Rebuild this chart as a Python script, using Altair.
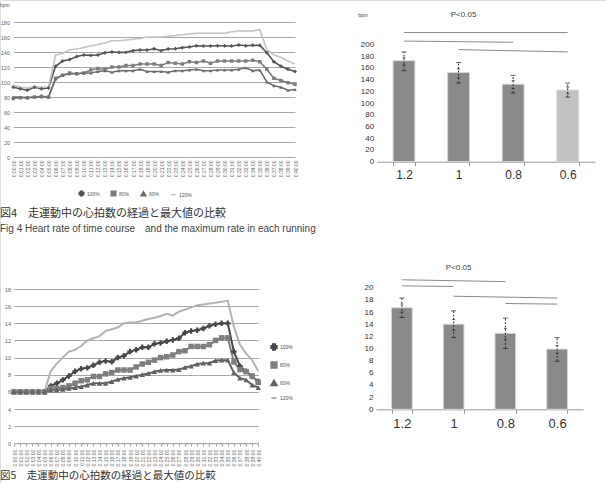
import altair as alt
import pandas as pd

times = ["0:00:00", "0:01:00", "0:02:00", "0:03:00", "0:04:00", "0:05:00", "0:06:00",
         "0:07:00", "0:08:00", "0:09:00", "0:10:00", "0:11:00", "0:12:00", "0:13:00",
         "0:14:00", "0:15:00", "0:16:00", "0:17:00", "0:18:00", "0:19:00", "0:20:00",
         "0:21:00", "0:22:00", "0:23:00", "0:24:00", "0:25:00", "0:26:00", "0:27:00",
         "0:28:00", "0:29:00", "0:30:00", "0:31:00", "0:32:00", "0:33:00", "0:34:00",
         "0:35:00", "0:36:00", "0:37:00", "0:38:00", "0:39:00", "0:40:00"]
series_names = ["100%", "80%", "60%", "120%"]

# Fig 4 time course (bpm)
hr_100 = [93, 91, 89, 93, 91, 92, 121, 128, 130, 134, 136, 135.5, 136, 139, 140, 139.5, 139.5,
          141.8, 142.7, 142.7, 144.4, 141.8, 144, 144.4, 145.8, 146.7, 148.4, 148, 148, 148.4,
          148.4, 148, 149.3, 148.4, 148.9, 148.9, 139, 127, 121, 117, 114]
hr_80 = [78, 79, 79, 80, 81, 80, 105, 109, 112, 111, 112, 116, 118, 117, 120, 120, 122, 122, 124,
         124, 124, 122, 126, 125, 124, 127, 126, 128, 125, 128, 128, 128, 128, 128, 129, 127, 117,
         105, 102, 99, 97]
hr_60 = [80, 80, 79, 80, 80, 80, 104, 109, 111, 111, 112, 112, 114, 115, 113, 115, 115, 115, 117,
         114, 114, 114, 113, 115, 115, 116, 117, 115, 115, 116, 116, 116, 117, 119, 115, 116, 100,
         95, 93, 89, 90]
hr_120 = [96, 93, 92, 94, 93, 93, 136, 138, 143, 144, 146, 148, 150, 152, 155, 155, 156, 157, 158,
          160, 160, 160, 161, 162, 163, 164, 165, 165, 165, 165, 165, 167, 168, 168, 168, 170, 143,
          136, 133, 128, 124]

# Fig 5 time course
r_100 = [6, 6, 6, 6, 6, 6, 6.7, 7.0, 7.4, 7.85, 8.4, 8.7, 8.8, 9.1, 9.45, 9.6, 9.5, 10.0, 10.2,
         10.7, 10.9, 11.2, 11.2, 11.6, 11.7, 11.9, 12.05, 12.25, 12.9, 13.1, 13.2, 13.4, 13.7,
         13.9, 14.0, 14.0, 10.7, 9.0, 8.4, 7.8, 7.2]
r_80 = [6, 6, 6, 6, 6, 6, 6.4, 6.4, 6.5, 6.7, 7.0, 7.3, 7.4, 7.8, 7.8, 8.1, 8.25, 8.55, 8.55,
        8.55, 8.9, 9.25, 9.45, 9.7, 10.0, 10.1, 10.3, 10.7, 10.8, 11.3, 11.3, 11.3, 11.5, 12.0,
        12.3, 12.3, 9.5, 8.6, 8.35, 7.85, 7.1]
r_60 = [6, 6, 6, 6, 6, 6, 6.2, 6.2, 6.3, 6.4, 6.5, 6.6, 6.8, 7.0, 7.0, 7.0, 7.2, 7.45, 7.6, 7.7,
        7.85, 8.0, 8.15, 8.35, 8.5, 8.55, 8.55, 8.6, 8.85, 9.0, 9.25, 9.35, 9.35, 9.65, 9.7, 9.7,
        8.25, 7.6, 7.4, 6.8, 6.5]
r_120 = [6, 6, 6, 6, 6, 6, 8.4, 9.3, 10.0, 10.7, 10.9, 11.35, 12.0, 12.25, 12.5, 13.1, 13.3, 13.5,
         14.0, 14.1, 14.1, 14.3, 14.5, 14.65, 14.85, 15.1, 14.9, 15.35, 15.6, 15.85, 16.1, 16.2,
         16.3, 16.4, 16.5, 16.65, 13.6, 11.5, 10.5, 9.7, 8.4]

# Bars
bar_cats = ["1.2", "1", "0.8", "0.6"]
hr_max = [172, 152, 132, 122]
hr_hi = [187, 169, 147, 134]
hr_lo = [155, 134, 117, 110]
hr_in_hi = [177, 158, 138, 127]
hr_in_lo = [165, 143, 125, 116]
hr_bar_colors = ["#8a8a8a", "#8a8a8a", "#8a8a8a", "#c2c2c2"]

r_max = [16.7, 14.0, 12.5, 9.9]
r_hi = [18.3, 16.2, 15.0, 11.8]
r_lo = [15.1, 11.8, 10.0, 7.9]
r_in_hi = [17.3, 14.8, 13.3, 10.5]
r_in_lo = [16.0, 13.0, 11.5, 9.2]

# significance brackets
sig4_from = ["1.2", "1.2", "1"]
sig4_to = ["0.6", "0.8", "0.6"]
sig4_y1 = [220, 205.5, 191]
sig4_y2 = [220, 203.5, 187]
sig5_from = ["1.2", "1.2", "1", "0.8"]
sig5_to = ["0.8", "1", "0.6", "0.6"]
sig5_y1 = [21.3, 20.3, 18.6, 17.4]
sig5_y2 = [21.0, 20.2, 18.3, 17.3]

W, H = 606, 483
FONT = "Liberation Sans"


def line_panel(vals, colors, widths, shapes, psize, xr, yr, ydom, yticks, yaxis_x, legend, xticks):
    rows = []
    for name, v in zip(series_names, vals):
        for t, val in zip(times, v):
            rows.append({"time": t, "series": name, "value": val})
    df = pd.DataFrame(rows)
    x = alt.X("time:O", sort=times,
              scale=alt.Scale(type="point", range=xr, padding=0),
              axis=alt.Axis(orient="bottom", offset=-(H - yr[0]), labelAngle=-90,
                            labelAlign="right", labelBaseline="middle", labelFontSize=5,
                            labelPadding=3, labelOverlap=False, labelColor="#666",
                            ticks=xticks, tickSize=3, tickColor="#aaa",
                            domain=xticks, domainColor="#aaa", grid=False, title=None))
    y = alt.Y("value:Q", scale=alt.Scale(domain=ydom, range=yr, nice=False, zero=False),
              axis=alt.Axis(orient="left", offset=-yaxis_x, values=yticks, grid=True,
                            gridColor="#a8a8a8", gridWidth=1, domain=False, ticks=False,
                            labelFontSize=5.5, labelColor="#666", labelPadding=1.5,
                            title=None))
    color = alt.Color("series:N", scale=alt.Scale(domain=series_names, range=colors),
                      legend=legend)
    lines = alt.Chart(df).mark_line().encode(
        x=x, y=y, color=color,
        strokeWidth=alt.StrokeWidth("series:N",
                                    scale=alt.Scale(domain=series_names, range=widths),
                                    legend=None),
        detail="series:N")
    pts = alt.Chart(df).transform_filter(alt.datum.series != "120%").mark_point(
        filled=True, size=psize, opacity=1).encode(
        x=x, y=y, color=color,
        shape=alt.Shape("series:N", scale=alt.Scale(domain=series_names, range=shapes),
                        legend=legend))
    return alt.layer(lines, pts)


def bar_panel(vals, hi, lo, ihi, ilo, colors, xr, yr, ydom, yticks, lab_size,
              sfrom, sto, sy1, sy2, ptxt_y, bpm):
    df = pd.DataFrame({"cat": bar_cats, "v": vals, "hi": hi, "lo": lo, "ihi": ihi,
                       "ilo": ilo, "c": colors})
    xs = alt.Scale(domain=bar_cats, range=xr, paddingInner=0.6, paddingOuter=0.3)
    ys = alt.Scale(domain=ydom, range=yr, nice=False, zero=True)
    yax = alt.Axis(orient="left", offset=-xr[0], values=yticks, grid=False, domain=False,
                   ticks=False, labelFontSize=8, labelColor="#333", labelPadding=3,
                   title="bpm" if bpm else None, titleAngle=0, titleFontSize=5,
                   titleFontWeight="normal", titleX=-19, titleY=yr[1] - 27,
                   titleAlign="left", titleColor="#444")
    xax = alt.Axis(orient="bottom", offset=-(H - yr[0]), labelAngle=0, labelFontSize=lab_size,
                   labelColor="#333", labelPadding=4, ticks=True, tickBand="extent",
                   tickSize=4, tickColor="#999", domain=True, domainColor="#999",
                   grid=False, title=None)
    x = alt.X("cat:N", sort=bar_cats, scale=xs, axis=xax)
    bars = alt.Chart(df).mark_bar(stroke="#d8d8d8", strokeWidth=1).encode(
        x=x, y=alt.Y("v:Q", scale=ys, axis=yax),
        color=alt.Color("c:N", scale=None, legend=None))
    xc = alt.X("cat:N", sort=bar_cats, scale=xs, axis=xax, bandPosition=0.5)
    err = alt.Chart(df).mark_rule(color="#333", strokeWidth=1, strokeDash=[2, 1.5]).encode(
        x=xc, y=alt.Y("lo:Q", scale=ys, axis=yax), y2="hi:Q")
    caps = alt.layer(*[
        alt.Chart(df).mark_tick(color="#222", size=sz, thickness=1).encode(
            x=xc, y=alt.Y(f"{f}:Q", scale=ys, axis=yax))
        for f, sz in [("hi", 5), ("lo", 5), ("ihi", 3), ("ilo", 3)]])
    sig = pd.DataFrame({"a": sfrom, "b": sto, "y1": sy1, "y2": sy2})
    lines = alt.Chart(sig).mark_rule(color="#8a8a8a", strokeWidth=1).encode(
        x=alt.X("a:N", sort=bar_cats, scale=xs, axis=xax, bandPosition=0.5),
        x2=alt.X2("b:N", bandPosition=0.5),
        y=alt.Y("y1:Q", scale=ys, axis=yax), y2="y2:Q")
    ptxt = alt.Chart(pd.DataFrame({"cat": ["1"], "y": [ptxt_y], "t": ["P<0.05"]})).mark_text(
        fontSize=8, font=FONT, color="#444", align="center", baseline="middle", dx=5).encode(
        x=alt.X("cat:N", sort=bar_cats, scale=xs, axis=xax, bandPosition=0.5),
        y=alt.Y("y:Q", scale=ys, axis=yax), text="t:N")
    return alt.layer(bars, err, caps, lines, ptxt)


legA = alt.Legend(orient="none", legendX=78, legendY=190, direction="horizontal", title=None,
                  labelFontSize=5, labelColor="#555", symbolSize=20, symbolStrokeWidth=1.5,
                  columnPadding=8, labelOffset=2)
legC = alt.Legend(orient="none", legendX=270, legendY=343, direction="vertical", title=None,
                  labelFontSize=5, labelColor="#555", symbolSize=28, symbolStrokeWidth=1.5,
                  rowPadding=4, labelOffset=2)

panelA = line_panel([hr_100, hr_80, hr_60, hr_120],
                    ["#555555", "#7c7c7c", "#6c6c6c", "#c4c4c4"], [1.6, 1.6, 1.6, 1.0],
                    ["cross", "square", "triangle-up", "stroke"], 12,
                    [13.3, 295], [157, 22], [0, 180], list(range(0, 181, 20)), 11, legA, False)
panelC = line_panel([r_100, r_80, r_60, r_120],
                    ["#474747", "#7f7f7f", "#616161", "#b3b3b3"], [2.0, 2.0, 2.0, 1.5],
                    ["cross", "square", "triangle-up", "stroke"], 30,
                    [14, 258.3], [443.3, 289], [0, 18], list(range(0, 19, 2)), 12, legC, True)
panelB = bar_panel(hr_max, hr_hi, hr_lo, hr_in_hi, hr_in_lo, hr_bar_colors,
                   [376.7, 595], [161.7, 44.3], [0, 200], list(range(0, 201, 20)), 12,
                   sig4_from, sig4_to, sig4_y1, sig4_y2, 250, True)
panelD = bar_panel(r_max, r_hi, r_lo, r_in_hi, r_in_lo, ["#8a8a8a"] * 4,
                   [376, 583], [409.3, 287.7], [0, 20], list(range(0, 21, 2)), 13,
                   sig5_from, sig5_to, sig5_y1, sig5_y2, 23.2, False)

cap_texts = ["図4　走運動中の心拍数の経過と最大値の比較",
             "Fig 4  Heart rate of time course　and the maximum rate in each running",
             "図5　走運動中の心拍数の経過と最大値の比較",
             "bpm"]


def cap(t, x, y, size, font, color="#333"):
    return alt.Chart(pd.DataFrame({"t": [t]})).mark_text(
        align="left", baseline="middle", fontSize=size, font=font, color=color).encode(
        text="t:N", x=alt.value(x), y=alt.value(y))


caps = [cap(cap_texts[0], 0, 214, 11, "Noto Sans CJK JP"),
        cap(cap_texts[1], 0, 229, 10, FONT, "#444"),
        cap(cap_texts[2], 0, 476, 10.5, "Noto Sans CJK JP"),
        cap(cap_texts[3], 0, 5, 5, FONT, "#555")]

chart = alt.layer(panelA, panelB, panelC, panelD, *caps).resolve_scale(
    x="independent", y="independent", color="independent", shape="independent",
    strokeWidth="independent").properties(
    width=W, height=H, autosize=alt.AutoSizeParams(type="none"), padding=0
).configure_view(stroke=None).configure(font=FONT)

chart.save("out.html", embed_options={"renderer": "svg", "actions": False})
